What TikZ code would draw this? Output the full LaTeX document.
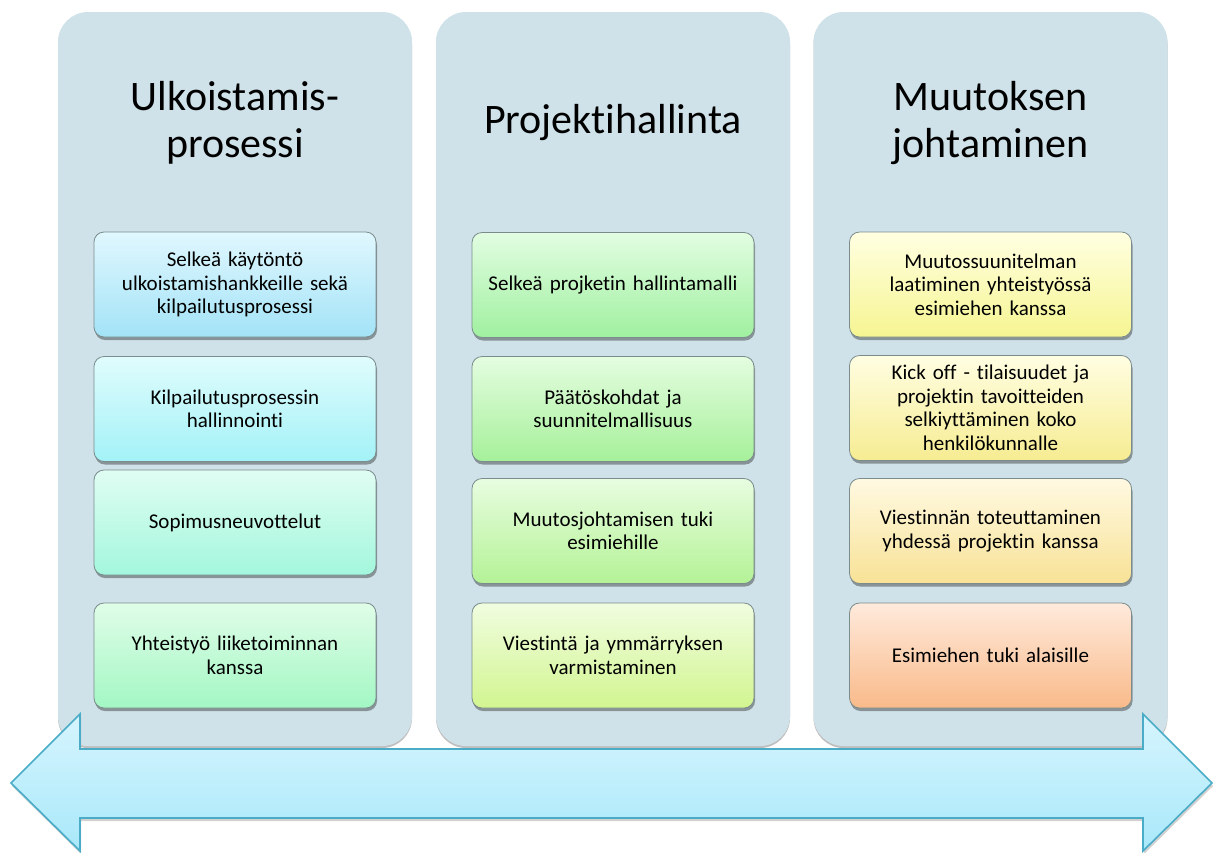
\documentclass[tikz,border=0pt]{standalone}
\usepackage{fontspec}
\setmainfont{Carlito}[Ligatures={NoCommon}]
\usetikzlibrary{shadows}
\definecolor{panelfill}{HTML}{D0E2E9}
\definecolor{boxline}{HTML}{7A8C8C}
\definecolor{arrowline}{HTML}{4AACC6}
\definecolor{aTop}{HTML}{D6F5FE}
\definecolor{aBot}{HTML}{A9E8FA}
% column 1
\definecolor{c1aT}{HTML}{E0F7FE}\definecolor{c1aB}{HTML}{A3E3F7}
\definecolor{c1bT}{HTML}{E0FCFD}\definecolor{c1bB}{HTML}{A3F2F7}
\definecolor{c1cT}{HTML}{E0FDF3}\definecolor{c1cB}{HTML}{A3F7DC}
\definecolor{c1dT}{HTML}{E0FDE8}\definecolor{c1dB}{HTML}{A3F7C4}
% column 2
\definecolor{c2aT}{HTML}{E2FDE2}\definecolor{c2aB}{HTML}{A0F0A0}
\definecolor{c2bT}{HTML}{E4FDE0}\definecolor{c2bB}{HTML}{A6F09A}
\definecolor{c2cT}{HTML}{E8FDE0}\definecolor{c2cB}{HTML}{B4F296}
\definecolor{c2dT}{HTML}{F0FDE0}\definecolor{c2dB}{HTML}{D2F590}
% column 3
\definecolor{c3aT}{HTML}{FFFFE2}\definecolor{c3aB}{HTML}{F6F592}
\definecolor{c3bT}{HTML}{FFFEE2}\definecolor{c3bB}{HTML}{F6EC92}
\definecolor{c3cT}{HTML}{FFF9E2}\definecolor{c3cB}{HTML}{F8E296}
\definecolor{c3dT}{HTML}{FFEADC}\definecolor{c3dB}{HTML}{F9BA8A}
\tikzset{
  panel/.style={fill=panelfill, rounded corners=30pt, minimum width=354pt, minimum height=734pt,
    drop shadow={shadow xshift=0pt, shadow yshift=-2pt, opacity=0.25, fill=black}},
  ttl/.style={font=\fontsize{42}{47}\selectfont, align=center, text=black},
  itembox/.style={draw=boxline, line width=0.8pt, rounded corners=10pt, minimum width=282pt,
    minimum height=105pt, text width=268pt, align=center, inner sep=0pt,
    font=\fontsize{21}{23.5}\selectfont,
    drop shadow={shadow xshift=1pt, shadow yshift=-3pt, opacity=0.35, fill=black}},
  sh/.style 2 args={top color=#1, bottom color=#2},
  bigarrow/.style={draw=arrowline, line width=1.6pt, top color=aTop, bottom color=aBot,
    drop shadow={shadow xshift=1pt, shadow yshift=-3pt, opacity=0.18, fill=black}}
}
\begin{document}
\begin{tikzpicture}[x=1pt,y=-1pt]
\useasboundingbox (0,0) rectangle (1221,852);
% panels
\node[panel] (p1) at (235,379) {};
\node[panel] (p2) at (613,379) {};
\node[panel] (p3) at (990.5,379) {};
% titles
\node[ttl] (t1) at (235,123) {Ulkoistamis-\\prosessi};
\node[ttl, anchor=base] (t2) at (613,133) {Projektihallinta};
\node[ttl] (t3) at (990.5,123) {Muutoksen\\johtaminen};
% column 1
\node[itembox, sh={c1aT}{c1aB}] (a1) at (235,284.5) {Selkeä käytöntö\\ulkoistamishankkeille sekä\\kilpailutusprosessi};
\node[itembox, sh={c1bT}{c1bB}] (a2) at (235,409) {Kilpailutusprosessin\\hallinnointi};
\node[itembox, sh={c1cT}{c1cB}] (a3) at (235,522.5) {Sopimusneuvottelut};
\node[itembox, sh={c1dT}{c1dB}] (a4) at (235,655.5) {Yhteistyö liiketoiminnan\\kanssa};
% column 2
\node[itembox, sh={c2aT}{c2aB}] (b1) at (613,285) {Selkeä projketin hallintamalli};
\node[itembox, sh={c2bT}{c2bB}] (b2) at (613,409) {Päätöskohdat ja\\suunnitelmallisuus};
\node[itembox, sh={c2cT}{c2cB}] (b3) at (613,531) {Muutosjohtamisen tuki\\esimiehille};
\node[itembox, sh={c2dT}{c2dB}] (b4) at (613,655.5) {Viestintä ja ymmärryksen\\varmistaminen};
% column 3
\node[itembox, sh={c3aT}{c3aB}] (c1) at (990.5,284.5) {Muutossuunitelman\\laatiminen yhteistyössä\\esimiehen kanssa};
\node[itembox, sh={c3bT}{c3bB}] (c2) at (990.5,408) {Kick off - tilaisuudet ja\\projektin tavoitteiden\\selkiyttäminen koko\\henkilökunnalle};
\node[itembox, sh={c3cT}{c3cB}] (c3) at (990.5,531) {Viestinnän toteuttaminen\\yhdessä projektin kanssa};
\node[itembox, sh={c3dT}{c3dB}] (c4) at (990.5,655.5) {Esimiehen tuki alaisille};
% double arrow
\draw[bigarrow] (11,783) -- (80,714) -- (80,749) -- (1143,749) -- (1143,714) -- (1212,783)
  -- (1143,851) -- (1143,818) -- (80,818) -- (80,851) -- cycle;
\end{tikzpicture}
\end{document}
